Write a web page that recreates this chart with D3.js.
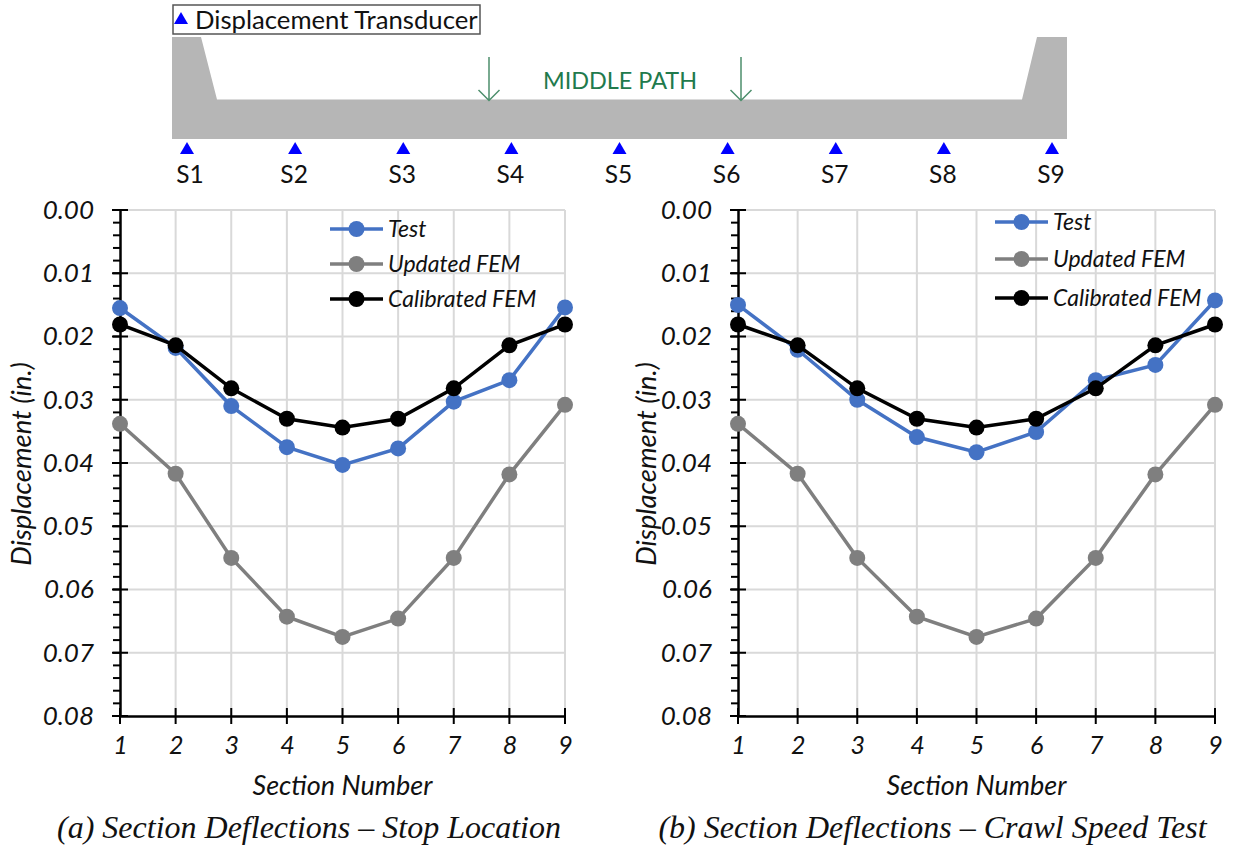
<!DOCTYPE html>
<html><head><meta charset="utf-8">
<script src="https://cdn.jsdelivr.net/npm/d3@7"></script>
<style>
html,body{margin:0;padding:0;background:#fff}
svg{display:block}
text{font-family:Lato,"Open Sans",sans-serif;fill:#111}
</style></head><body>
<svg id="c" width="1233" height="847"></svg>
<script>
const sections=[1,2,3,4,5,6,7,8,9];
const testA=[0.0155,0.0218,0.0310,0.0375,0.0403,0.0377,0.0303,0.0269,0.0154];
const testB=[0.0150,0.0221,0.0300,0.0359,0.0383,0.0351,0.0269,0.0245,0.0143];
const updatedFEM=[0.0338,0.0417,0.0550,0.0643,0.0675,0.0646,0.0550,0.0418,0.0308];
const calibratedFEM=[0.0181,0.0214,0.0282,0.0330,0.0344,0.0330,0.0282,0.0214,0.0181];
const yTicks=[0,0.01,0.02,0.03,0.04,0.05,0.06,0.07,0.08];
const yMinor=d3.range(0,0.0801,0.002);
const sensors=["S1","S2","S3","S4","S5","S6","S7","S8","S9"];
const seriesNames=["Test","Updated FEM","Calibrated FEM"];
const seriesColors=["#4472c4","#7f7f7f","#000000"];

const svg=d3.select("#c");
const tri=d3.symbol().type(d3.symbolTriangle).size(85);

// ---- bridge section diagram
const bx=d3.scalePoint().domain(sensors).range([187,1052]);
const deck=d3.path();
deck.moveTo(172,37);deck.lineTo(201,37);deck.lineTo(217,99.5);deck.lineTo(1022,99.5);
deck.lineTo(1037,37);deck.lineTo(1067,37);deck.lineTo(1067,139);deck.lineTo(172,139);deck.closePath();
svg.append("path").attr("d",deck.toString()).attr("fill","#b6b6b6");
svg.append("rect").attr("x",173).attr("y",5).attr("width",307).attr("height",29)
  .attr("fill","#fff").attr("stroke","#555").attr("stroke-width",1.5);
svg.append("path").attr("d",tri()).attr("transform","translate(181,20)").attr("fill","#0000ff");
svg.append("text").attr("x",195).attr("y",29).attr("font-size",25.7).text("Displacement Transducer");
svg.selectAll(".sensor").data(sensors).join("path").attr("class","sensor")
  .attr("d",tri()).attr("fill","#0000ff")
  .attr("transform",d=>`translate(${bx(d)},${150})`);
svg.selectAll(".slabel").data(sensors).join("text").attr("class","slabel")
  .attr("x",(d,i)=>bx(d)+(i===0?3:-1)).attr("y",183).attr("text-anchor","middle")
  .attr("font-size",24.5).text(d=>d);
svg.append("text").attr("x",620).attr("y",89).attr("text-anchor","middle")
  .attr("font-size",23.4).style("fill","#217a4c").text("MIDDLE PATH");
[489,741].forEach(x=>{
  svg.append("path").attr("d",`M${x},57V100M${x-10.5},90L${x},100.5L${x+10.5},90`)
    .attr("fill","none").attr("stroke","#4d8f6c").attr("stroke-width",1.5);
});

// ---- panels
function panel(o){
  const x=d3.scaleLinear().domain([1,9]).range([o.x0,o.x1]);
  const y=d3.scaleLinear().domain([0,0.08]).range([210,716]);
  const g=svg.append("g");
  // grid
  g.selectAll(".gy").data(yTicks.slice(0,-1)).join("line")
    .attr("x1",o.x0).attr("x2",o.x1).attr("y1",y).attr("y2",y)
    .attr("stroke","#d9d9d9").attr("stroke-width",2);
  g.selectAll(".gx").data(sections.slice(1)).join("line")
    .attr("x1",x).attr("x2",x).attr("y1",210).attr("y2",716)
    .attr("stroke","#d9d9d9").attr("stroke-width",2);
  // y axis
  const ya=d3.axisLeft(y).tickValues(yTicks).tickFormat(d3.format(".2f")).tickSize(0).tickPadding(26);
  const yg=g.append("g").attr("transform",`translate(${o.x0},0)`).call(ya);
  yg.select(".domain").attr("stroke","#000").attr("stroke-width",2.5);
  yg.selectAll("text").attr("font-size",26).attr("font-style","italic").style("fill","#111");
  g.selectAll(".ymin").data(yMinor).join("line")
    .attr("x1",o.x0-7).attr("x2",o.x0).attr("y1",y).attr("y2",y)
    .attr("stroke","#000").attr("stroke-width",2);
  g.selectAll(".ymaj").data(yTicks).join("line")
    .attr("x1",o.x0-8).attr("x2",o.x0+8).attr("y1",y).attr("y2",y)
    .attr("stroke","#000").attr("stroke-width",2);
  // x axis
  const xa=d3.axisBottom(x).tickValues(sections).tickFormat(d3.format("d")).tickSize(0).tickPadding(20);
  const xg=g.append("g").attr("transform","translate(0,716)").call(xa);
  xg.select(".domain").attr("stroke","#000").attr("stroke-width",2.5);
  xg.selectAll("text").attr("font-size",25).attr("font-style","italic").style("fill","#111");
  g.selectAll(".xmaj").data(sections).join("line")
    .attr("x1",x).attr("x2",x).attr("y1",708).attr("y2",724)
    .attr("stroke","#000").attr("stroke-width",2);
  // series
  const line=d3.line().x((d,i)=>x(sections[i])).y(d=>y(d));
  [0,1,2].forEach(k=>{
    const v=o.series[k];
    g.append("path").attr("d",line(v)).attr("fill","none")
      .attr("stroke",seriesColors[k]).attr("stroke-width",3.5);
    g.selectAll(".pt"+k).data(v).join("circle")
      .attr("cx",(d,i)=>x(sections[i])).attr("cy",d=>y(d)).attr("r",8).attr("fill",seriesColors[k]);
  });
  // legend
  seriesNames.forEach((n,k)=>{
    const ly=o.legY[k];
    g.append("line").attr("x1",o.legX).attr("x2",o.legX+53).attr("y1",ly).attr("y2",ly)
      .attr("stroke",seriesColors[k]).attr("stroke-width",3.5);
    g.append("circle").attr("cx",o.legX+26.5).attr("cy",ly).attr("r",8).attr("fill",seriesColors[k]);
    g.append("text").attr("x",o.legX+58).attr("y",ly+8).attr("font-size",23).attr("font-style","italic").text(n);
  });
  // titles
  g.append("text").attr("x",(o.x0+o.x1)/2).attr("y",795).attr("text-anchor","middle")
    .attr("font-size",27).attr("font-style","italic").text("Section Number");
  g.append("text").attr("transform",`translate(${o.yTitleX},464) rotate(-90)`).attr("text-anchor","middle")
    .attr("font-size",27.5).attr("font-style","italic").text("Displacement (in.)");
  g.append("text").attr("x",o.capX).attr("y",838).attr("text-anchor","middle")
    .attr("font-size",32).attr("font-style","italic")
    .style("font-family","'Liberation Serif',serif").text(o.caption);
}
panel({x0:120,x1:565,series:[testA,updatedFEM,calibratedFEM],legX:330,legY:[229,264,299],yTitleX:31,capX:309,
  caption:"(a) Section Deflections – Stop Location"});
panel({x0:738,x1:1215,series:[testB,updatedFEM,calibratedFEM],legX:995,legY:[222,259,298],yTitleX:656,capX:932.5,
  caption:"(b) Section Deflections – Crawl Speed Test"});
</script></body></html>
